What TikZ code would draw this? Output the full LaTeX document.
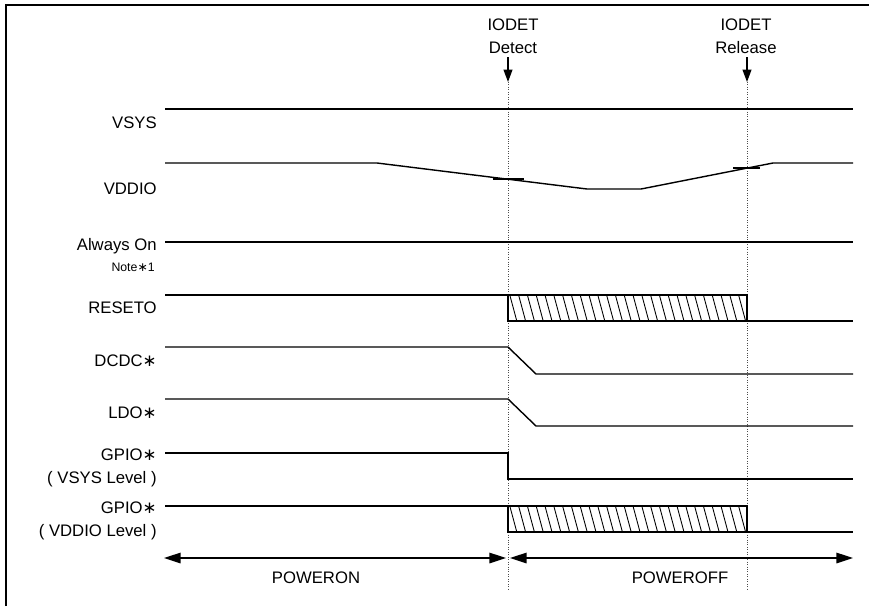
\documentclass[tikz,border=0pt]{standalone}
\usepackage{fontspec}
\setmainfont{Liberation Sans}
\newfontfamily\symfont{DejaVu Sans}
\usetikzlibrary{arrows.meta, positioning}
\newcommand{\sigast}{{\symfont ∗}}

\begin{document}
\begin{tikzpicture}[
    x=0.02cm, y=-0.02cm,
    frame/.style={line width=1.1pt},
    sig/.style={line width=0.8pt},
    siglabel/.style={anchor=east, font=\fontsize{9.5}{11}\selectfont, inner sep=0pt},
    notelabel/.style={anchor=east, font=\fontsize{7}{8}\selectfont, inner sep=0pt},
    toplabel/.style={font=\fontsize{9.5}{11}\selectfont, inner sep=0pt},
    marker/.style={densely dotted, line width=0.4pt, black!70},
    event/.style={-{Triangle[length=7pt,width=5pt]}, line width=0.8pt},
    span/.style={{Triangle[length=9.5pt,width=6pt]}-{Triangle[length=9.5pt,width=6pt]}, line width=0.8pt},
    hatch/.style={line width=0.5pt}
]
\useasboundingbox (0,0) rectangle (869,606);

% frame
\draw[frame] (6,606) -- (6,5) -- (869,5);

% event markers
\draw[marker] (508,82) -- (508,590);
\draw[marker] (747,82) -- (747,590);
\node[toplabel] (detect) at (513,48) {Detect};
\node[toplabel, above=6pt of detect] (iodet1) {IODET};
\node[toplabel] (release) at (746,48) {Release};
\node[toplabel, above=6pt of release] (iodet2) {IODET};
\coordinate (detA) at (508,57);
\coordinate (detB) at (508,82);
\coordinate (relA) at (747,57);
\coordinate (relB) at (747,82);
\draw[event] (detA) -- (detB);
\draw[event] (relA) -- (relB);

% signal names
\node[siglabel] (vsys) at (157,123) {VSYS};
\node[siglabel] (vddio) at (157,189) {VDDIO};
\node[siglabel] (aon) at (157,246) {Always On};
\node[notelabel] (note) at (155,267) {Note\sigast1};
\node[siglabel] (reseto) at (157,308) {RESETO};
\node[siglabel] (dcdc) at (157,361) {DCDC\sigast};
\node[siglabel] (ldo) at (157,413) {LDO\sigast};
\node[siglabel] (gpio1) at (157,455) {GPIO\sigast};
\node[siglabel] (gpio1b) at (157,479) {( VSYS Level )};
\node[siglabel] (gpio2) at (157,508) {GPIO\sigast};
\node[siglabel] (gpio2b) at (157,532) {( VDDIO Level )};

% waveforms
\draw[sig] (165,109) -- (853,109);
\draw[sig] (165,163) -- (377,163) -- (587,189) -- (641,189) -- (773,163) -- (853,163);
\draw[sig] (493,179) -- (524,179);
\draw[sig] (733,168) -- (760,168);
\draw[sig] (165,242) -- (853,242);
\draw[sig] (165,295) -- (508,295);
\draw[sig] (747,321) -- (853,321);
\draw[sig] (165,347) -- (508,347) -- (536,374) -- (853,374);
\draw[sig] (165,399) -- (508,399) -- (536,426) -- (853,426);
\draw[sig] (165,453) -- (508,453) -- (508,479) -- (853,479);
\draw[sig] (165,506) -- (508,506);
\draw[sig] (747,532) -- (853,532);

% undefined level
\begin{scope}
    \clip (508,295) rectangle (747,321);
    \foreach \x in {501,509.8,...,750} \draw[hatch] (\x,295) -- (\x+7,321);
\end{scope}
\draw[sig] (508,295) rectangle (747,321);
\begin{scope}
    \clip (508,506) rectangle (747,532);
    \foreach \x in {501,509.8,...,750} \draw[hatch] (\x,506) -- (\x+7,532);
\end{scope}
\draw[sig] (508,506) rectangle (747,532);

% phases
\coordinate (onL) at (164,558);
\coordinate (onR) at (506,558);
\coordinate (offL) at (510,558);
\coordinate (offR) at (853,558);
\draw[span] (onL) -- (onR);
\draw[span] (offL) -- (offR);
\node[toplabel] (poweron) at (316,578) {POWERON};
\node[toplabel] (poweroff) at (680,578) {POWEROFF};

\end{tikzpicture}
\end{document}
